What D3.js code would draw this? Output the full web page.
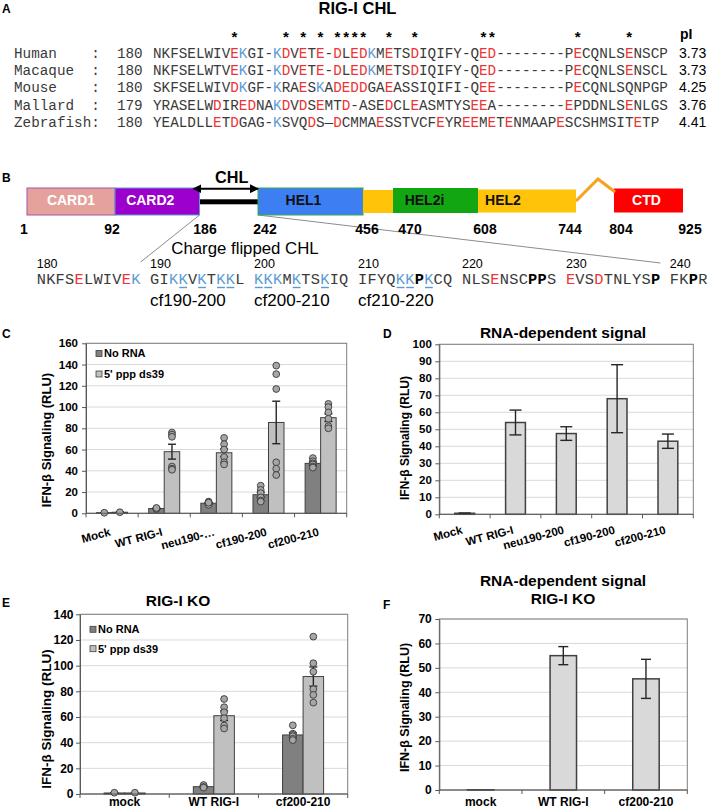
<!DOCTYPE html>
<html><head><meta charset="utf-8">
<script src="https://cdn.jsdelivr.net/npm/d3@7"></script>
<style>body{margin:0;background:#fff}svg{display:block}</style>
</head><body><svg id="fig" width="708" height="812"></svg>
<script>
// ================= DATA =================
// Panel A: alignment
const alignSpecies = ["Human","Macaque","Mouse","Mallard","Zebrafish"];
const alignStart = [180,180,180,179,180];
const alignSeqs = [
 "NKFSELWIVEKGI-KDVETE-DLEDKMETSDIQIFY-QED--------PECQNLSENSCP",
 "NKFSELWTVEKGI-KDVETE-DLEDKMETSDIQIFY-QED--------PECQNLSENSCL",
 "SKFSELWIVDKGF-KRAESKADEDDGAEASSIQIFI-QEE--------PECQNLSQNPGP",
 "YRASELWDIREDNAKDVDSEMTD-ASEDCLEASMTYSEEA--------EPDDNLSENLGS",
 "YEALDLLETDGAG-KSVQDS\u2014DCMMAESSTVCFEYREEMETENMAAPESCSHMSITETP"];
const alignPI = ["3.73","3.73","4.25","3.76","4.41"];
const starCols = [9,15,17,19,21,22,23,24,27,30,38,39,49,55];
const firstColoredCol = 7;
const uncoloredCols = {Mallard:[26,50,51]};

// Panel B: domain map
const domainNames = ["CARD1","CARD2","HEL1","HEL2a","HEL2i","HEL2","CTD"];
const domainLabels = ["CARD1","CARD2","HEL1","","HEL2i","HEL2","CTD"];
const domainStart = [1,92,242,456,470,608,804];
const domainEnd   = [92,186,456,470,608,744,925];
const chlRange = [186,242];
const hingeRange = [744,804];
const residueTicks = [1,92,186,242,456,470,608,744,804,925];

// Panel B: charge-flipped CHL sequence
const cfGroups = ["NKFSELWIVEK","GIKKVKTKKL","KKKMKTSKIQ","IFYQKKPKCQ","NLSENSCPPS","EVSDTNLYSP","FKPR"];
const cfGroupNums = [180,190,200,210,220,230,240];
const cfFlipped = [15,17,19,20,23,24,27,30,38,39,41];
const cfPlainK = [1,68];
const cfMutants = ["cf190-200","cf200-210","cf210-220"];
const cfMutantGroup = [1,2,3];

// Panel C
const cCats = ["Mock","WT RIG-I","neu190-\u2026","cf190-200","cf200-210"];
const cNoRNA = [0.6,4.5,9.5,17.5,47];
const cNoRNAErr = [0.1,0.5,0.8,2.4,1.4];
const cPPP = [1,58,57,85.5,90];
const cPPPErr = [0.2,7,3.7,20,3.6];
const cNoRNADots = [[0.5],[4,4.5,5],[11,10,9.5,9,8,10],[26,22,19,15,12,11],[52,49,47,46,44,43]];
const cPPPDots = [[1],[76,74,72,44,42,41],[71,65,60,53,48,46],[139,131,117,48,42,36],[103,100,95,89,82,80]];

// Panel D
const dCats = ["Mock","WT RIG-I","neu190-200","cf190-200","cf200-210"];
const dVals = [0.6,54,47.5,68,43];
const dErr = [0.1,7.3,4,20,4.2];

// Panel E
const eCats = ["mock","WT RIG-I","cf200-210"];
const eNoRNA = [0.8,5.7,46];
const eNoRNAErr = [0.1,0.6,1.8];
const ePPP = [0.8,61,91.5];
const ePPPErr = [0.1,3.8,7.5];
const eNoRNADots = [[1],[7,5.5,5],[53.5,47,46,45,43,42]];
const ePPPDots = [[1],[74,67.6,63.7,59,53.3,51],[122.6,101.9,95.3,81.6,77.2,71.2]];

// Panel F
const fCats = ["mock","WT RIG-I","cf200-210"];
const fVals = [0.1,55,45.5];
const fErr = [0,3.7,8];

const legendNames = ["No RNA","5' ppp ds39"];
const yTitle = "IFN-\u03b2 Signaling (RLU)";

// ================= DRAWING =================
const SANS = '"Liberation Sans", Arial, Helvetica, sans-serif';
const MONO = '"Liberation Mono", "Courier New", Courier, monospace';
const RED = "#ee3535", BLUE = "#5b9bd5", SEQ = "#3a3a3a";
const svg = d3.select("#fig");
svg.append("rect").attr("width",708).attr("height",812).attr("fill","#fff");

function txt(g, s, x, y, size, opts={}) {
  return g.append("text").attr("x",x).attr("y",y).text(s)
    .attr("font-family", opts.family || SANS).attr("font-size", size)
    .attr("font-weight", opts.weight || "normal").attr("fill", opts.fill || "#000")
    .attr("text-anchor", opts.anchor || "start");
}

// panel letters
[["A",2,12.7],["B",2,182],["C",2,338],["D",383,338],["E",2,607],["F",383,609]]
  .forEach(([l,x,y]) => txt(svg,l,x,y,12,{weight:"bold"}));

// ---------- Panel A ----------
{
  const g = svg.append("g");
  txt(g,"RIG-I CHL",357.5,13.5,16.5,{weight:"bold",anchor:"middle"});
  const cw = 8.58;
  const colX = d3.scaleLinear().domain([0,1]).range([153,153+cw]);
  const rowY = d3.scaleLinear().domain([0,1]).range([57.5,57.5+17.4]);
  g.append("g").selectAll("text").data(starCols).join("text")
    .attr("x", c => colX(c+0.5)).attr("y",42).attr("text-anchor","middle")
    .attr("font-family",SANS).attr("font-weight","bold").attr("font-size",15).text("*");
  txt(g,"pI",680,39,14,{weight:"bold"});
  alignSpecies.forEach((sp,i) => {
    const y = rowY(i);
    txt(g, sp, 14, y, 14.3, {family:MONO, fill:SEQ});
    txt(g, ":", 14+9*cw, y, 14.3, {family:MONO, fill:SEQ});
    txt(g, String(alignStart[i]), 14+12*cw, y, 14.3, {family:MONO, fill:SEQ});
    const skip = uncoloredCols[sp] || [];
    const chars = Array.from(alignSeqs[i]);
    g.append("g").selectAll("text").data(chars).join("text")
      .attr("x",(c,j)=>colX(j)).attr("y",y)
      .attr("font-family",MONO).attr("font-size",14.3)
      .attr("fill",(c,j)=>{
        if (j < firstColoredCol || skip.includes(j)) return SEQ;
        if (c==="D"||c==="E") return RED;
        if (c==="K") return BLUE;
        return SEQ;
      }).text(c=>c);
    txt(g, alignPI[i], 679, y, 14);
  });
}

// ---------- Panel B ----------
{
  const g = svg.append("g");
  const px = d3.scaleLinear().domain(residueTicks).range([27,115,199.5,258,363,393,478,576,614,683]);
  const lx = d3.scaleLinear().domain(residueTicks).range([24,112,205,265,367,410,485,570,621,690]);
  const dStyle = {
    CARD1:{fill:"#e5a29c",stroke:"#a552a8",text:"#fff",y0:188,y1:215,dx:0},
    CARD2:{fill:"#9b00cc",stroke:"#5b9bd5",text:"#fff",y0:188,y1:215,dx:-7},
    HEL1:{fill:"#3d7ef2",stroke:"#35a853",text:"#111",y0:188,y1:215,dx:-7},
    HEL2a:{fill:"#ffc409",stroke:"none",text:"#111",y0:190,y1:213,dx:0},
    HEL2i:{fill:"#13a613",stroke:"none",text:"#111",y0:188,y1:213,dx:-11},
    HEL2:{fill:"#ffc409",stroke:"none",text:"#111",y0:189.5,y1:212.5,dx:-24},
    CTD:{fill:"#ff0000",stroke:"none",text:"#fff",y0:188.5,y1:212.5,dx:-2}
  };
  // connector lines
  const seqX = d3.scaleLinear().domain([0,1]).range([36.7,46.15]);
  g.append("line").attr("x1",px(chlRange[0])).attr("y1",215).attr("x2",seqX(11)).attr("y2",262)
    .attr("stroke","#8c8c8c").attr("stroke-width",1);
  g.append("line").attr("x1",px(chlRange[1])).attr("y1",215).attr("x2",seqX(66)).attr("y2",263)
    .attr("stroke","#8c8c8c").attr("stroke-width",1);
  // CHL bar
  g.append("rect").attr("x",px(chlRange[0])).attr("width",px(chlRange[1])-px(chlRange[0]))
    .attr("y",199.3).attr("height",5).attr("fill","#000");
  // domains
  domainNames.forEach((n,i)=>{
    const s = dStyle[n];
    const x0 = px(domainStart[i]), x1 = px(domainEnd[i]);
    g.append("rect").attr("x",x0).attr("y",s.y0).attr("width",x1-x0).attr("height",s.y1-s.y0)
      .attr("fill",s.fill).attr("stroke",s.stroke).attr("stroke-width",1);
    if (domainLabels[i]) txt(g,domainLabels[i],(x0+x1)/2+s.dx,205,14,{weight:"bold",anchor:"middle",fill:s.text});
  });
  // hinge
  const hMid = (hingeRange[0]+hingeRange[1])/2;
  g.append("path").attr("d",`M${px(hingeRange[0])},201L${px(hMid)+3},179L${px(hingeRange[1])+1},192`)
    .attr("fill","none").attr("stroke","#f5a31a").attr("stroke-width",3);
  // CHL arrow
  const defs = svg.append("defs");
  ["s","e"].forEach(k=>{
    defs.append("marker").attr("id","ah"+k).attr("viewBox","0 0 10 10").attr("refX",k==="e"?9:1).attr("refY",5)
      .attr("markerWidth",4.5).attr("markerHeight",4.5).attr("orient","auto-start-reverse")
      .append("path").attr("d","M0,0L10,5L0,10z").attr("fill","#000");
  });
  g.append("line").attr("x1",px(chlRange[0])+1).attr("x2",px(chlRange[1])).attr("y1",188.7).attr("y2",188.7)
    .attr("stroke","#000").attr("stroke-width",2)
    .attr("marker-start","url(#ahs)").attr("marker-end","url(#ahe)");
  txt(g,"CHL",231.7,182.5,16.2,{weight:"bold",anchor:"middle"});
  // residue numbers
  g.append("g").selectAll("text").data(residueTicks).join("text")
    .attr("x",d=>lx(d)).attr("y",234).attr("text-anchor","middle")
    .attr("font-family",SANS).attr("font-weight","bold").attr("font-size",14).text(d=>d);
  // charge flipped sequence
  txt(g,"Charge flipped CHL",245,254,16.8,{anchor:"middle"});
  const full = cfGroups.join(" ");
  const starts = []; let acc = 0;
  cfGroups.forEach(s=>{starts.push(acc); acc += s.length+1;});
  cfGroupNums.forEach((n,i)=> txt(g,String(n),seqX(starts[i]),268,12.5));
  g.append("g").selectAll("text").data(Array.from(full)).join("text")
    .attr("x",(c,j)=>seqX(j)).attr("y",283.5)
    .attr("font-family",MONO).attr("font-size",15.3)
    .attr("font-weight",c=>c==="P"?"bold":"normal")
    .attr("fill",(c,j)=>{
      if (c==="D"||c==="E") return RED;
      if (c==="K" && !cfPlainK.includes(j)) return BLUE;
      if (c==="P") return "#000";
      return SEQ;
    }).text(c=>c);
  g.append("g").selectAll("line").data(cfFlipped).join("line")
    .attr("x1",d=>seqX(d)+0.8).attr("x2",d=>seqX(d+1)-0.8).attr("y1",287.5).attr("y2",287.5)
    .attr("stroke",BLUE).attr("stroke-width",1.4);
  cfMutants.forEach((m,i)=> txt(g,m,seqX(starts[cfMutantGroup[i]]),306,17));
}

// ---------- charts ----------
function drawChart(o) {
  const g = svg.append("g");
  const y = d3.scaleLinear().domain([0,o.yMax]).range([o.bottom,o.top]);
  const x = d3.scaleBand().domain(o.cats).range([o.left,o.right]);
  const bw = x.bandwidth();
  const xs = d3.scaleBand().domain(d3.range(o.series.length)).range([bw*(1-o.span)/2, bw*(1+o.span)/2]);
  const ticks = d3.range(0,o.yMax+o.yStep/2,o.yStep);
  g.append("g").selectAll("line").data(ticks.slice(1)).join("line")
    .attr("x1",o.left).attr("x2",o.right).attr("y1",d=>y(d)).attr("y2",d=>y(d))
    .attr("stroke","#d9d9d9").attr("stroke-width",1);
  g.append("rect").attr("x",o.left).attr("y",o.top).attr("width",o.right-o.left).attr("height",o.bottom-o.top)
    .attr("fill","none").attr("stroke","#7f7f7f").attr("stroke-width",1);
  o.series.forEach((s,si)=>{
    g.append("g").selectAll("rect").data(o.cats).join("rect")
      .attr("x",c=>x(c)+xs(si)).attr("width",xs.bandwidth())
      .attr("y",(c,i)=>y(s.values[i])).attr("height",(c,i)=>y(0)-y(s.values[i]))
      .attr("fill",s.fill).attr("stroke","#404040").attr("stroke-width",o.barStroke);
  });
  o.series.forEach((s,si)=>{
    const eg = g.append("g").attr("stroke","#262626").attr("stroke-width",1.4);
    o.cats.forEach((c,i)=>{
      const e = s.errors[i]; if (!e) return;
      const cx = x(c)+xs(si)+xs.bandwidth()/2, v = s.values[i];
      eg.append("line").attr("x1",cx).attr("x2",cx).attr("y1",y(v-e)).attr("y2",y(v+e));
      [v-e,v+e].forEach(t=>eg.append("line").attr("x1",cx-o.cap/2).attr("x2",cx+o.cap/2).attr("y1",y(t)).attr("y2",y(t)));
    });
  });
  o.series.forEach((s,si)=>{
    if (!s.dots) return;
    const pts = [];
    o.cats.forEach((c,i)=> s.dots[i].forEach(v=>pts.push({c,v})));
    g.append("g").selectAll("circle").data(pts).join("circle")
      .attr("cx",d=>x(d.c)+xs(si)+xs.bandwidth()/2).attr("cy",d=>y(d.v)).attr("r",3.4)
      .attr("fill","#a6a6a6").attr("stroke","#3a3a3a").attr("stroke-width",0.9);
  });
  const ya = g.append("g").attr("transform",`translate(${o.left},0)`)
    .call(d3.axisLeft(y).tickValues(ticks).tickSize(4).tickSizeOuter(0).tickPadding(o.tickPad).tickFormat(d3.format("d")));
  ya.select(".domain").attr("stroke","#595959");
  ya.selectAll(".tick line").attr("stroke","#595959");
  ya.selectAll(".tick text").attr("font-family",SANS).attr("font-weight","bold").attr("font-size",o.tickFont).attr("fill","#000");
  g.append("line").attr("x1",o.left).attr("x2",o.right).attr("y1",y(0)).attr("y2",y(0)).attr("stroke","#595959");
  const edges = o.cats.map(c=>x(c)).concat([o.right]);
  g.append("g").selectAll("line").data(edges).join("line")
    .attr("x1",d=>d).attr("x2",d=>d).attr("y1",y(0)).attr("y2",y(0)+4).attr("stroke","#595959");
  o.cats.forEach(c=>{
    const cx = x(c)+bw/2;
    if (o.rotate) {
      const ax = cx+o.lblDx, ay = o.bottom+o.lblDy;
      txt(g,c,0,0,o.lblFont,{weight:"bold",anchor:"end"}).attr("transform",`translate(${ax},${ay}) rotate(-15)`);
    } else {
      txt(g,c,cx,o.lblY,o.lblFont,{weight:"bold",anchor:"middle"});
    }
  });
  txt(g,yTitle,0,0,o.yTitleFont,{weight:"bold",anchor:"middle"})
    .attr("transform",`translate(${o.yTitleX},${o.yTitleY}) rotate(-90)`).attr("dy","0.35em");
  (o.titles||[]).forEach(t=>txt(g,t[0],t[1],t[2],15.5,{weight:"bold",anchor:"middle"}));
  if (o.legend) {
    o.series.forEach((s,si)=>{
      const ly = o.legend.y + si*o.legend.dy;
      g.append("rect").attr("x",o.legend.x).attr("y",ly-3).attr("width",6).attr("height",6)
        .attr("fill",s.fill).attr("stroke","#404040").attr("stroke-width",0.8);
      txt(g,legendNames[si],o.legend.x+8,ly,11,{weight:"bold"}).attr("dy","0.35em");
    });
  }
}

drawChart({cats:cCats,left:86,right:346.7,top:343.3,bottom:513.3,yMax:160,yStep:20,span:0.595,
  series:[{values:cNoRNA,errors:cNoRNAErr,dots:cNoRNADots,fill:"#808080"},
          {values:cPPP,errors:cPPPErr,dots:cPPPDots,fill:"#c0c0c0"}],
  barStroke:1,cap:8,tickFont:11.5,tickPad:4,rotate:true,lblDx:-1,lblDy:22,lblFont:11.5,
  yTitleX:46.7,yTitleY:440,yTitleFont:13,legend:{x:96,y:353.5,dy:20.5}});

drawChart({cats:dCats,left:439.3,right:693.3,top:344.3,bottom:514.3,yMax:100,yStep:10,span:0.39,
  series:[{values:dVals,errors:dErr,fill:"#d9d9d9"}],
  barStroke:1.5,cap:12,tickFont:11.5,tickPad:3.5,rotate:true,lblDx:-1.5,lblDy:19,lblFont:11.5,
  yTitleX:405,yTitleY:438,yTitleFont:12,titles:[["RNA-dependent signal",563,338]]});

drawChart({cats:eCats,left:80,right:347.7,top:614.3,bottom:794,yMax:140,yStep:20,span:0.46,
  series:[{values:eNoRNA,errors:eNoRNAErr,dots:eNoRNADots,fill:"#808080"},
          {values:ePPP,errors:ePPPErr,dots:ePPPDots,fill:"#c0c0c0"}],
  barStroke:1,cap:8,tickFont:12,tickPad:2.5,rotate:false,lblY:806,lblFont:12,
  yTitleX:46.7,yTitleY:719,yTitleFont:13.5,titles:[["RIG-I KO",178,606]],legend:{x:90,y:629.3,dy:19.4}});

drawChart({cats:fCats,left:439.3,right:687.3,top:619,bottom:790,yMax:70,yStep:10,span:0.32,
  series:[{values:fVals,errors:fErr,fill:"#d9d9d9"}],
  barStroke:1.5,cap:10,tickFont:12,tickPad:3.5,rotate:false,lblY:806,lblFont:12,
  yTitleX:405,yTitleY:707.5,yTitleFont:12.5,titles:[["RNA-dependent signal",563,586],["RIG-I KO",563,604]]});
</script></body></html>
